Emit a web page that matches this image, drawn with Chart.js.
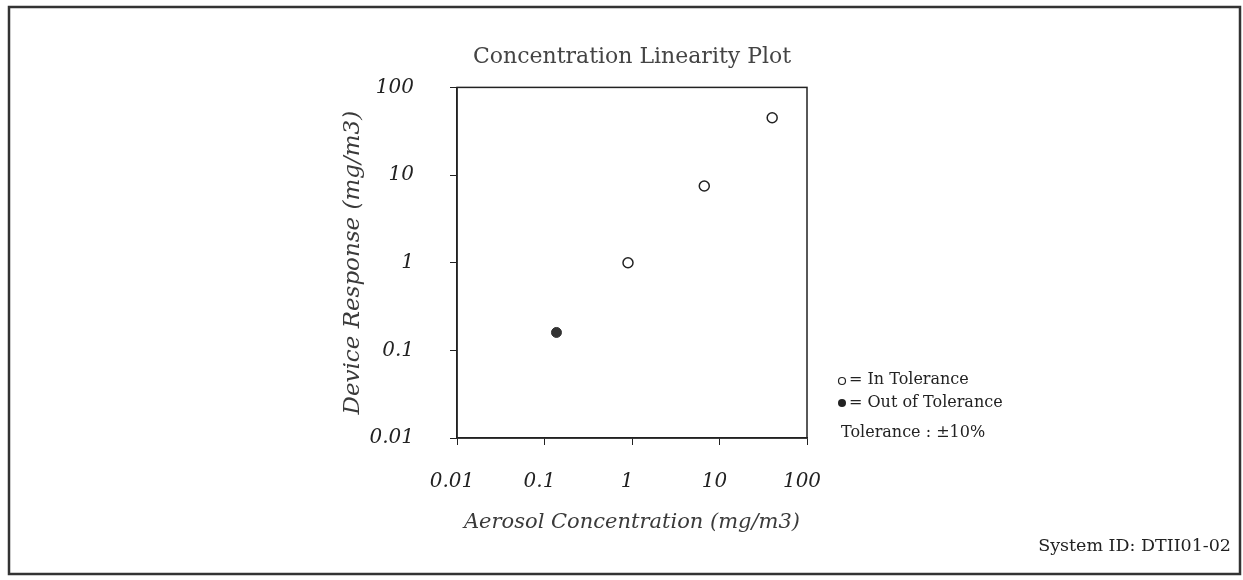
<!DOCTYPE html>
<html>
<head>
<meta charset="utf-8">
<script src="https://cdn.jsdelivr.net/npm/chart.js@4"></script>
<style>
  html, body { margin:0; background:#fff; }
  #wrap { width:1243px; height:580px; }
</style>
</head>
<body>
<div id="wrap"><canvas id="plot"></canvas></div>
<script>
// data
const inTolX  = [0.9, 6.7, 40];
const inTolY  = [1.0, 7.5, 45];
const outTolX = [0.137];
const outTolY = [0.16];
const tickValues = [0.01, 0.1, 1, 10, 100];
const tickLabels = ['0.01', '0.1', '1', '10', '100'];

const serif = 'DejaVu Serif';
const ink = '#222';

const pairs = (xs, ys) => xs.map((x, i) => ({ x: x, y: ys[i] }));

// frame, plot box and the hand-written legend block
const overlay = {
  id: 'overlay',
  afterDraw(chart) {
    const ctx = chart.ctx, a = chart.chartArea;
    ctx.save();
    ctx.strokeStyle = ink;
    ctx.lineWidth = 1.5;
    ctx.strokeRect(a.left, a.top, a.right - a.left, a.bottom - a.top);

    ctx.lineWidth = 2.5;
    ctx.strokeStyle = '#333';
    ctx.strokeRect(9, 7, 1231, 567);

    ctx.fillStyle = ink;
    ctx.strokeStyle = ink;
    ctx.textBaseline = 'middle';
    ctx.font = '16px "' + serif + '"';
    ctx.beginPath();
    ctx.lineWidth = 1.2;
    ctx.arc(842, 381, 3.5, 0, Math.PI * 2);
    ctx.stroke();
    ctx.fillText('= In Tolerance', 849, 380);
    ctx.beginPath();
    ctx.arc(842, 403, 4, 0, Math.PI * 2);
    ctx.fill();
    ctx.fillText('= Out of Tolerance', 849, 403);
    ctx.fillText('Tolerance : \u00b110%', 841, 433);

    ctx.font = '17.5px "' + serif + '"';
    ctx.textAlign = 'right';
    ctx.fillText('System ID: DTII01-02', 1231, 546);
    ctx.restore();
  }
};

const axisFont = { family: serif, style: 'italic', size: 20 };

new Chart(document.getElementById('plot').getContext('2d'), {
  type: 'scatter',
  data: {
    datasets: [
      { label: 'In Tolerance', data: pairs(inTolX, inTolY),
        pointRadius: 5, pointBorderWidth: 1.5, borderColor: ink, backgroundColor: '#fff' },
      { label: 'Out of Tolerance', data: pairs(outTolX, outTolY),
        pointRadius: 5, pointBorderWidth: 1, borderColor: '#333', backgroundColor: '#333' }
    ]
  },
  options: {
    responsive: true,
    maintainAspectRatio: false,
    animation: false,
    layout: { padding: { left: 330, right: 436, top: 0, bottom: 0 } },
    plugins: {
      legend: { display: false },
      tooltip: { enabled: false },
      title: {
        display: true, text: 'Concentration Linearity Plot', fullSize: false,
        color: '#444', font: { family: serif, size: 22, weight: 'normal' },
        padding: { top: 44, bottom: 17 }
      }
    },
    scales: {
      x: {
        type: 'logarithmic', min: 0.01, max: 100,
        afterBuildTicks: s => { s.ticks = tickValues.map(v => ({ value: v })); },
        afterFit: s => { s.height = 142; },
        grid: { drawOnChartArea: false, drawTicks: true, tickLength: 7, color: ink },
        border: { display: true, color: ink, width: 1.5 },
        ticks: { callback: (v, i) => tickLabels[i], font: axisFont, color: ink,
                 padding: 25, labelOffset: -5, maxRotation: 0, autoSkip: false },
        title: { display: true, text: 'Aerosol Concentration (mg/m3)',
                 font: { family: serif, style: 'italic', size: 21 },
                 color: '#3a3a3a', padding: { top: 0, bottom: 45 } }
      },
      y: {
        type: 'logarithmic', min: 0.01, max: 100,
        afterBuildTicks: s => { s.ticks = tickValues.map(v => ({ value: v })); },
        afterFit: s => { s.width = 127; },
        grid: { drawOnChartArea: false, drawTicks: true, tickLength: 7, color: ink },
        border: { display: true, color: ink, width: 1.5 },
        ticks: { callback: (v, i) => tickLabels[i], font: axisFont, color: ink,
                 padding: 36, autoSkip: false },
        title: { display: true, text: 'Device Response (mg/m3)',
                 font: { family: serif, style: 'italic', size: 23 },
                 color: '#3a3a3a', padding: { top: 9, bottom: 0 } }
      }
    }
  },
  plugins: [overlay]
});
</script>
</body>
</html>
